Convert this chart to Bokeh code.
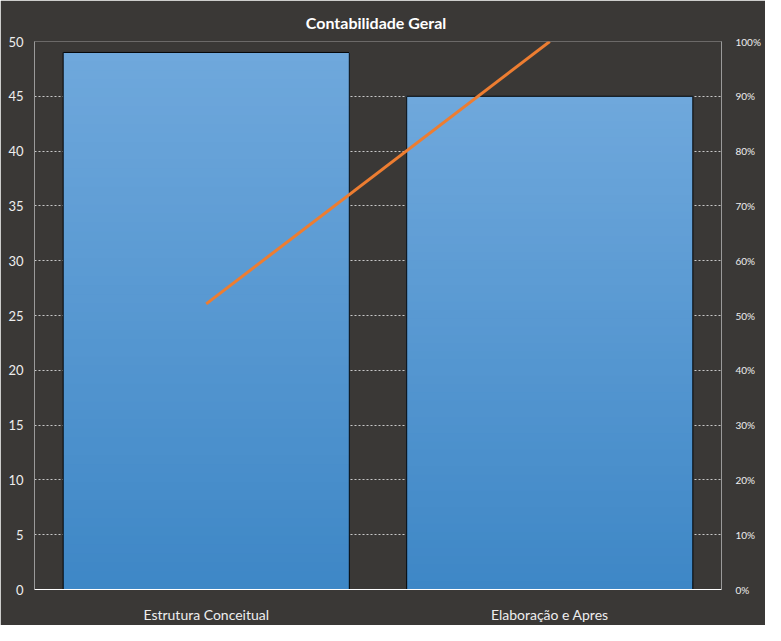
from bokeh.plotting import figure
from bokeh.models import FactorRange, Range1d, LinearAxis, NumeralTickFormatter, FixedTicker
from bokeh.embed import file_html
from bokeh.resources import INLINE

categories = ["Estrutura Conceitual", "Elaboração e Apres"]
values = [49, 45]
left_ticks = [0, 5, 10, 15, 20, 25, 30, 35, 40, 45, 50]
right_ticks = [0, 0.1, 0.2, 0.3, 0.4, 0.5, 0.6, 0.7, 0.8, 0.9, 1.0]

total = sum(values)
cum = []
s = 0
for v in values:
    s += v
    cum.append(s / total)

BG = "#3a3836"
TXT = "#eeeeee"
FONT = "Lato"

p = figure(x_range=FactorRange(*categories, range_padding=0), y_range=Range1d(0, 50),
           width=765, height=625, output_backend="svg", toolbar_location=None,
           min_border_left=34, min_border_right=44, min_border_top=40, min_border_bottom=33)
p.background_fill_color = BG
p.border_fill_color = BG
p.outline_line_color = None

p.title.text = "Contabilidade  Geral"
p.title.align = "center"
p.title.text_color = "#ffffff"
p.title.text_font = FONT
p.title.text_font_size = "16px"
p.title.text_font_style = "bold"
p.title.offset = 0
p.title.standoff = 20

p.extra_y_ranges = {"pct": Range1d(0, 1)}

# gradient bars via overlapping strips
def lerp(c1, c2, t):
    a = [int(c1[i:i+2], 16) for i in (1, 3, 5)]
    b = [int(c2[i:i+2], 16) for i in (1, 3, 5)]
    return "#%02x%02x%02x" % tuple(round(a[i] + (b[i] - a[i]) * t) for i in range(3))

N = 60
xs, bots, tops, cols = [], [], [], []
for k in range(N):
    for c, v in zip(categories, values):
        xs.append(c)
        bots.append(v * k / N)
        tops.append(v)
        cols.append(lerp("#3e87c6", "#6fa8dc", (k + 0.5) / N))
p.vbar(x=xs, bottom=bots, top=tops, width=0.833, fill_color=cols, line_color=None)
p.vbar(x=categories, top=values, width=0.833, fill_alpha=0, line_color="black", line_width=1)

p.line(x=categories, y=cum, y_range_name="pct", line_color="#ed7d31", line_width=3)

# axes
p.yaxis.ticker = FixedTicker(ticks=left_ticks)
p.yaxis.axis_line_color = "#9a9a9a"
p.yaxis.major_tick_line_color = None
p.yaxis.minor_tick_line_color = None
p.yaxis.major_label_text_color = TXT
p.yaxis.major_label_text_font = FONT
p.yaxis.major_label_text_font_size = "13px"

p.xaxis.axis_line_color = "#ffffff"
p.xaxis.major_tick_line_color = None
p.xaxis.major_label_text_color = TXT
p.xaxis.major_label_text_font = FONT
p.xaxis.major_label_text_font_size = "14px"
p.xaxis.major_label_standoff = 10

ra = LinearAxis(y_range_name="pct", ticker=FixedTicker(ticks=right_ticks),
                formatter=NumeralTickFormatter(format="0%"))
ra.axis_line_color = "#9a9a9a"
ra.major_tick_line_color = None
ra.minor_tick_line_color = None
ra.major_label_text_color = TXT
ra.major_label_text_font = FONT
ra.major_label_text_font_size = "10px"
ra.major_label_standoff = 8
p.add_layout(ra, "right")

p.xgrid.grid_line_color = None
p.ygrid.grid_line_color = "#c8c8c8"
p.ygrid.grid_line_dash = "2 2"
p.ygrid.grid_line_width = 1

open("out.html", "w").write(file_html(p, INLINE))
